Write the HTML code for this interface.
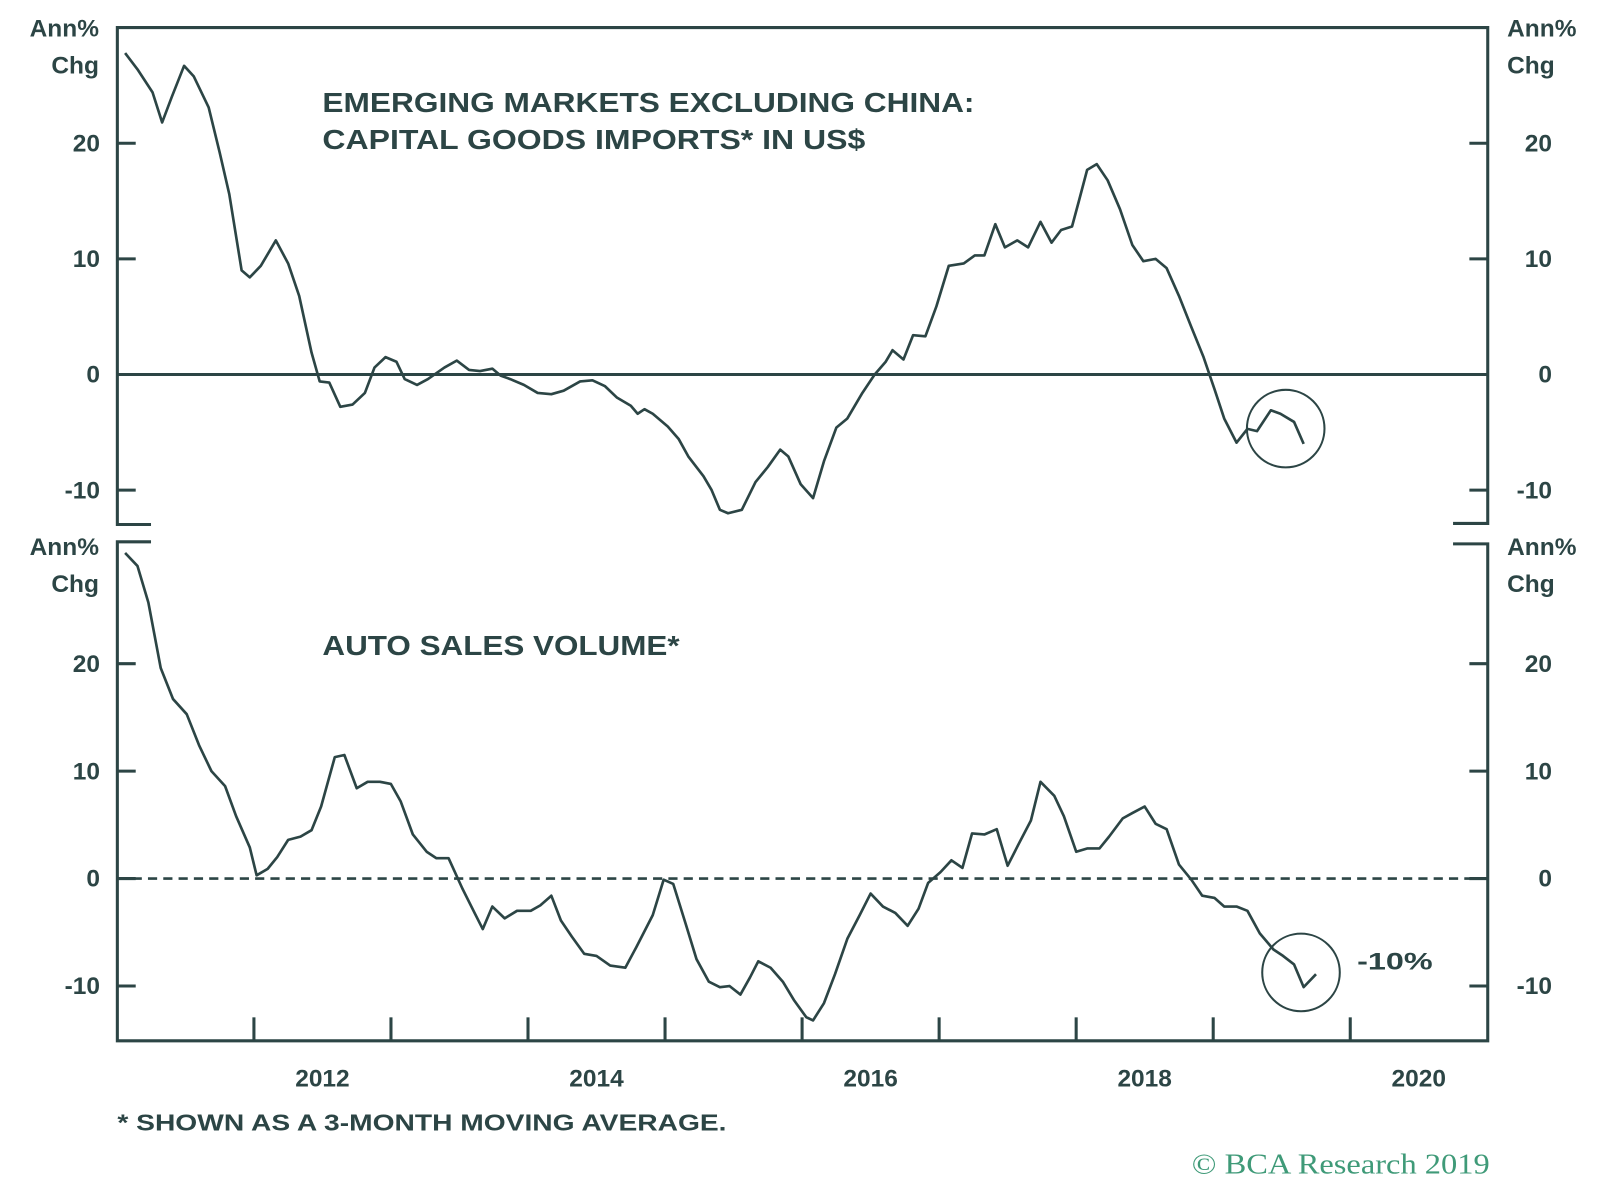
<!DOCTYPE html>
<html><head><meta charset="utf-8"><style>
html,body{margin:0;padding:0;background:#fff;}
svg{display:block;font-family:"Liberation Sans",sans-serif;}
</style></head><body>
<svg id="chart" width="1600" height="1193" viewBox="0 0 1600 1193" xmlns="http://www.w3.org/2000/svg"><g id="root" transform="scale(1.0204)"></g></svg>
<script>
// ---- data ----
const topDates=[2010.56,2010.65,2010.76,2010.83,2010.90,2010.99,2011.06,2011.17,2011.25,2011.32,2011.41,2011.47,2011.55,2011.66,2011.75,2011.83,2011.92,2011.98,2012.05,2012.13,2012.22,2012.31,2012.38,2012.46,2012.54,2012.60,2012.69,2012.77,2012.89,2012.98,2013.07,2013.15,2013.24,2013.30,2013.37,2013.47,2013.57,2013.67,2013.76,2013.88,2013.97,2014.06,2014.15,2014.25,2014.30,2014.35,2014.41,2014.52,2014.60,2014.67,2014.78,2014.84,2014.90,2014.96,2015.06,2015.16,2015.25,2015.34,2015.40,2015.49,2015.58,2015.66,2015.75,2015.83,2015.94,2016.03,2016.11,2016.16,2016.24,2016.31,2016.40,2016.48,2016.57,2016.68,2016.76,2016.83,2016.91,2016.98,2017.07,2017.15,2017.24,2017.32,2017.39,2017.47,2017.52,2017.58,2017.65,2017.73,2017.82,2017.91,2017.99,2018.08,2018.16,2018.25,2018.34,2018.43,2018.51,2018.58,2018.67,2018.75,2018.82,2018.92,2018.99,2019.09,2019.16];
const topValues=[27.8,26.4,24.4,21.8,24.0,26.7,25.8,23.1,19.2,15.6,9.0,8.4,9.4,11.6,9.6,6.8,1.9,-0.6,-0.7,-2.8,-2.6,-1.6,0.6,1.5,1.1,-0.4,-0.9,-0.4,0.6,1.2,0.4,0.3,0.5,-0.1,-0.4,-0.9,-1.6,-1.7,-1.4,-0.6,-0.5,-1.0,-2.0,-2.7,-3.4,-3.0,-3.4,-4.5,-5.6,-7.1,-8.8,-10.0,-11.7,-12.0,-11.7,-9.3,-8.0,-6.5,-7.1,-9.5,-10.7,-7.5,-4.6,-3.8,-1.6,0,1.1,2.1,1.3,3.4,3.3,5.9,9.4,9.6,10.3,10.3,13.0,11.0,11.6,11.0,13.2,11.4,12.5,12.8,15.0,17.7,18.2,16.8,14.3,11.2,9.8,10.0,9.2,6.8,4.1,1.5,-1.3,-3.8,-5.9,-4.7,-4.9,-3.1,-3.4,-4.1,-6.0];
const botDates=[2010.56,2010.65,2010.73,2010.82,2010.91,2011.01,2011.10,2011.19,2011.29,2011.37,2011.47,2011.52,2011.60,2011.67,2011.75,2011.84,2011.92,2011.99,2012.09,2012.16,2012.25,2012.33,2012.42,2012.50,2012.57,2012.66,2012.76,2012.83,2012.92,2013.02,2013.11,2013.17,2013.24,2013.33,2013.42,2013.52,2013.59,2013.67,2013.74,2013.82,2013.91,2014.00,2014.10,2014.21,2014.29,2014.41,2014.49,2014.56,2014.65,2014.73,2014.82,2014.90,2014.97,2015.05,2015.12,2015.18,2015.27,2015.36,2015.44,2015.53,2015.58,2015.66,2015.74,2015.83,2015.92,2016.00,2016.09,2016.18,2016.27,2016.35,2016.42,2016.51,2016.59,2016.67,2016.74,2016.83,2016.92,2017.00,2017.08,2017.17,2017.24,2017.34,2017.41,2017.50,2017.58,2017.67,2017.74,2017.84,2017.91,2018.00,2018.08,2018.16,2018.25,2018.34,2018.42,2018.51,2018.58,2018.67,2018.75,2018.84,2018.94,2019.01,2019.09,2019.16,2019.25];
const botValues=[30.3,29.1,25.7,19.6,16.7,15.3,12.4,10.0,8.6,5.8,2.9,0.3,0.9,2.0,3.6,3.9,4.5,6.7,11.3,11.5,8.4,9.0,9.0,8.8,7.2,4.1,2.5,1.9,1.9,-0.9,-3.2,-4.7,-2.6,-3.7,-3.0,-3.0,-2.5,-1.6,-3.9,-5.4,-7.0,-7.2,-8.1,-8.3,-6.4,-3.4,-0.1,-0.5,-4.2,-7.5,-9.6,-10.1,-10.0,-10.8,-9.2,-7.7,-8.3,-9.6,-11.3,-12.9,-13.2,-11.6,-8.9,-5.6,-3.4,-1.4,-2.6,-3.2,-4.4,-2.8,-0.4,0.6,1.7,1.0,4.2,4.1,4.6,1.2,3.2,5.4,9.0,7.7,5.8,2.5,2.8,2.8,3.9,5.6,6.1,6.7,5.1,4.6,1.3,-0.1,-1.6,-1.8,-2.6,-2.6,-3.0,-5.1,-6.6,-7.2,-8.0,-10.1,-8.9];
const yTicks=[20,10,0,-10];
const xLabels=[2012,2014,2016,2018,2020];
const xTickYears=[2011.5,2012.5,2013.5,2014.5,2015.5,2016.5,2017.5,2018.5,2019.5];

// ---- scales ----
const X=t=>316+(t-2012)*134.3;
const YT=v=>367-v*11.33;
const YB=v=>861-v*10.53;
const C='#2c4545';
const svg=document.getElementById('root');
const NS='http://www.w3.org/2000/svg';
function el(tag,attrs,parent){const e=document.createElementNS(NS,tag);for(const k in attrs)e.setAttribute(k,attrs[k]);(parent||svg).appendChild(e);return e;}
function txt(s,attrs){const e=el('text',Object.assign({fill:C,'font-size':24,'font-weight':'bold'},attrs));e.textContent=s;return e;}

const L=115,R=1458;
let f=el('path',{d:`M${L+33},514 L${L},514 L${L},27 L${R},27 L${R},513 L${R-34},513`,fill:'none',stroke:C,'stroke-width':3});

f=el('path',{d:`M${L+33},531 L${L},531 L${L},1020 L${R},1020 L${R},533 L${R-34},533`,fill:'none',stroke:C,'stroke-width':3});


yTicks.forEach(v=>{
  [[YT,'top'],[YB,'bottom']].forEach(([Y,p])=>{
    const y=Y(v);
    let t=el('line',{x1:L,x2:L+18,y1:y,y2:y,stroke:C,'stroke-width':3});
    
    t=el('line',{x1:R-18,x2:R,y1:y,y2:y,stroke:C,'stroke-width':3});
    
    let a=txt(String(v),{x:98,y:y+8,'text-anchor':'end'});
    
    a=txt(String(v),{x:1521,y:y+8,'text-anchor':'end'});
    
  });
});
[[36,'top-left'],[544,'bottom-left']].forEach(([y,n])=>{
  let a=txt('Ann%',{x:97,y:y,'text-anchor':'end'});
  a=txt('Chg',{x:97,y:y+36,'text-anchor':'end'});
});
[[36,'top-right'],[544,'bottom-right']].forEach(([y,n])=>{
  let a=txt('Ann%',{x:1477,y:y});
  a=txt('Chg',{x:1477,y:y+36});
});

let z=el('line',{x1:L,x2:R,y1:YT(0),y2:YT(0),stroke:C,'stroke-width':3});

z=el('line',{x1:L,x2:R,y1:YB(0),y2:YB(0),stroke:C,'stroke-width':2.5,'stroke-dasharray':'9,6'});


xTickYears.forEach(t=>{
  const l=el('line',{x1:X(t),x2:X(t),y1:997,y2:1020,stroke:C,'stroke-width':3});
  
});
xLabels.forEach(y=>{
  const a=txt(String(y),{x:X(y),y:1065,'text-anchor':'middle'});
  
});

function line(d,v,Y,name){
  const p=el('path',{d:d.map((t,i)=>(i?'L':'M')+X(t).toFixed(1)+','+Y(v[i]).toFixed(1)).join(' '),fill:'none',stroke:C,'stroke-width':2.6,'stroke-linejoin':'round'});
  
}
line(topDates,topValues,YT,'capital-goods-imports-line');
line(botDates,botValues,YB,'auto-sales-line');

let c=el('circle',{cx:1260,cy:420,r:38,fill:'none',stroke:C,'stroke-width':2});

c=el('circle',{cx:1275,cy:953,r:38,fill:'none',stroke:C,'stroke-width':2});

const S='spacingAndGlyphs';
let a=txt('-10%',{x:1330,y:950,textLength:74,lengthAdjust:S});

a=txt('EMERGING MARKETS EXCLUDING CHINA:',{x:316,y:110,'font-size':27,textLength:639,lengthAdjust:S});
a=txt('CAPITAL GOODS IMPORTS* IN US$',{x:316,y:146,'font-size':27,textLength:532,lengthAdjust:S});
a=txt('AUTO SALES VOLUME*',{x:316,y:642,'font-size':27,textLength:350,lengthAdjust:S});
a=txt('* SHOWN AS A 3-MONTH MOVING AVERAGE.',{x:115,y:1108,'font-size':23,textLength:597,lengthAdjust:S});
a=el('text',{x:1168,y:1150,fill:'#3f9a78','font-size':28,'font-family':'Liberation Serif, serif',textLength:292,lengthAdjust:S});
a.textContent='© BCA Research 2019';
</script>
</body></html>
